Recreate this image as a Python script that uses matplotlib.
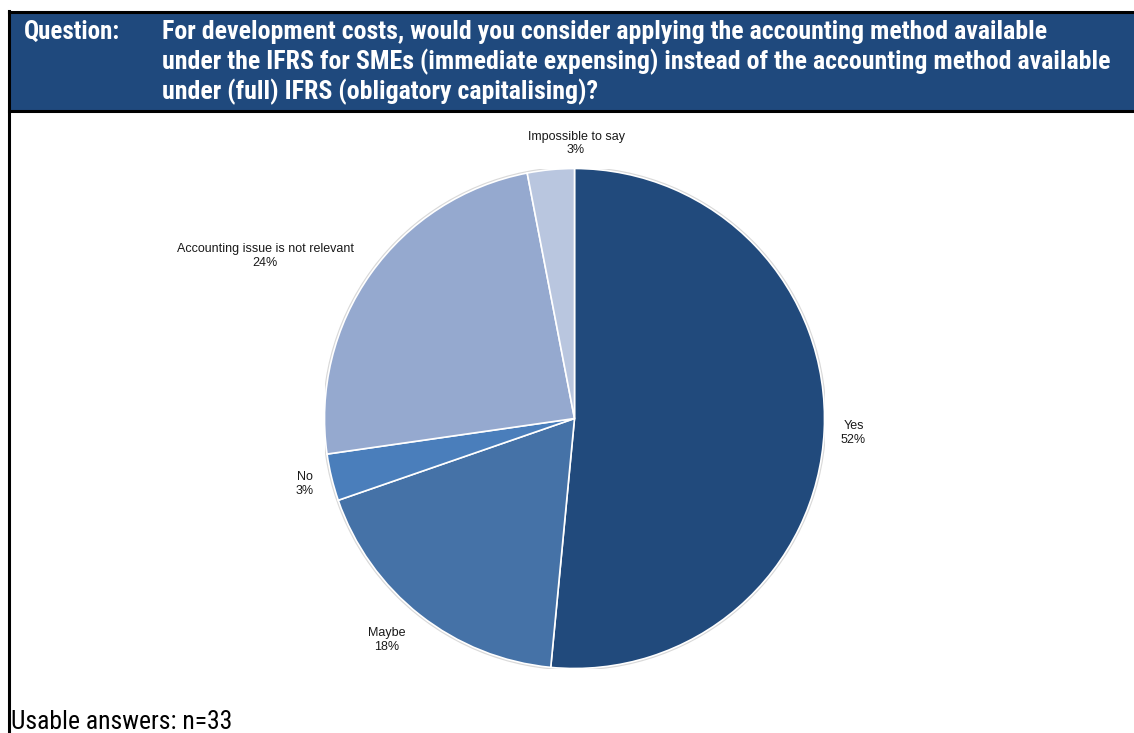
import matplotlib.pyplot as plt
from matplotlib.patches import Rectangle, Circle
from matplotlib.lines import Line2D

#%% Survey data
answers = ["Yes", "Maybe", "No", "Accounting issue is not relevant", "Impossible to say"]
counts = [17, 6, 1, 8, 1]
colors = ["#214A7C", "#4572A7", "#4A7EBB", "#95A9CF", "#B9C6DF"]
# label block centres, in units of the pie radius
label_pos = [(1.116, -0.058), (-0.75, -0.886), (-1.078, -0.262),
             (-1.238, 0.65), (0.006, 1.10)]

question = ["For development costs, would you consider applying the accounting method available",
            "under the IFRS for SMEs (immediate expensing) instead of the accounting method available",
            "under (full) IFRS (obligatory capitalising)?"]
n_total = sum(counts)

narrow = ["Roboto Condensed", "DejaVu Sans"]

#%% Figure
W, H = 1134, 733
fig = plt.figure(figsize=(W / 100, H / 100), dpi=100)
fig.patch.set_facecolor("white")

# header band with frame
fig.add_artist(Rectangle((10 / W, 1 - 111 / H), 1 - 10 / W, 99 / H,
                         transform=fig.transFigure, facecolor="#1F497D",
                         edgecolor="none"))
for y in (12, 111):
    fig.add_artist(Line2D([9 / W, 1], [1 - y / H, 1 - y / H], color="black",
                          lw=2.2, transform=fig.transFigure))
fig.add_artist(Line2D([9 / W, 9 / W], [0, 1 - 11 / H], color="black",
                      lw=2.2, transform=fig.transFigure))

fig.text(24 / W, 1 - 32 / H, "Question:", color="white", fontsize=18,
         fontweight="bold", family=narrow, va="center", ha="left")
for i, line in enumerate(question):
    fig.text(162 / W, 1 - (32 + 30 * i) / H, line, color="white", fontsize=18.6,
             fontweight="bold", family=narrow, va="center", ha="left")

#%% Pie
cx, cy, r = 574.5, 418.5, 250
ax = fig.add_axes([(cx - r) / W, (H - cy - r) / H, 2 * r / W, 2 * r / H])
ax.add_patch(Circle((0, 0), 1.008, facecolor="#D9D9D9", edgecolor="none",
                    zorder=0))
wedges, texts = ax.pie(counts, colors=colors, startangle=90, counterclock=False,
                       radius=1.0,
                       wedgeprops=dict(edgecolor="white", linewidth=1.2),
                       labels=[f"{a}\n{c / n_total:.0%}" for a, c in zip(answers, counts)],
                       textprops=dict(fontsize=9, family="Liberation Sans",
                                      color="#1a1a1a"))
for t, (lx, ly) in zip(texts, label_pos):
    t.set_position((lx, ly))
    t.set_ha("center")
    t.set_va("center")
    t.set_multialignment("center")
    t.set_clip_on(False)
ax.set_xlim(-1, 1)
ax.set_ylim(-1, 1)
ax.set_aspect("equal")
ax.axis("off")

fig.text(11 / W, 1 - 722 / H, f"Usable answers: n={n_total}", fontsize=18.5,
         family=narrow, va="center", ha="left", color="black")

plt.savefig("out.png", dpi=100)
